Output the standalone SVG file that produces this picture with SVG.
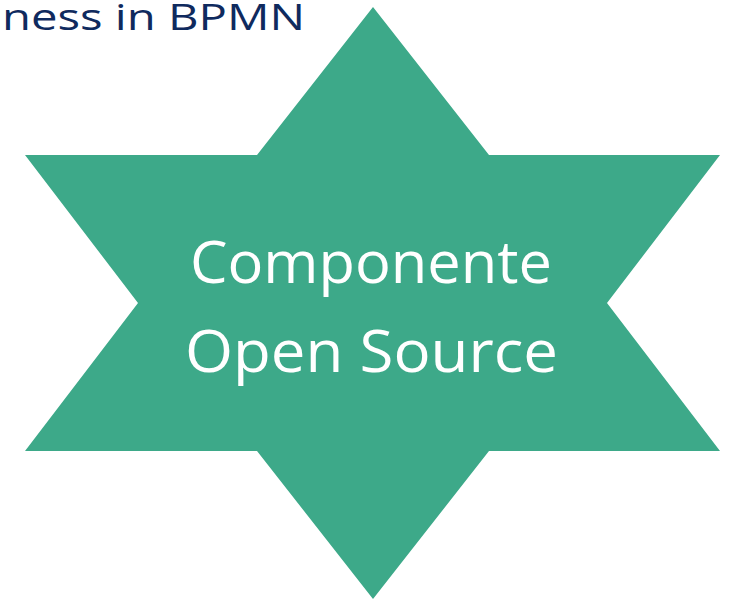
<svg xmlns="http://www.w3.org/2000/svg" width="733" height="601" viewBox="0 0 733 601">
<style>
.title{font-family:"Open Sans","DejaVu Sans",sans-serif;font-size:36px;fill:#0F2A5E}
.star{fill:#3DA989}
.lbl{font-family:"Open Sans","DejaVu Sans",sans-serif;font-size:58px;fill:#FFFFFF;text-anchor:middle}
</style>
<rect width="733" height="601" fill="#FFFFFF"/>
<g id="title"><text class="title" x="2" y="30" textLength="303" lengthAdjust="spacingAndGlyphs">ness in BPMN</text></g>
<g id="star-node">
<polygon class="star" points="373,7 257,155 25,155 138,303 25,451 257,451 373,599 489,451 720,451 607,303 720,155 489,155"/>
<text class="lbl" x="371" y="283" textLength="362" lengthAdjust="spacingAndGlyphs">Componente</text>
<text class="lbl" x="371.5" y="372" textLength="373" lengthAdjust="spacingAndGlyphs">Open Source</text>
</g>
</svg>
